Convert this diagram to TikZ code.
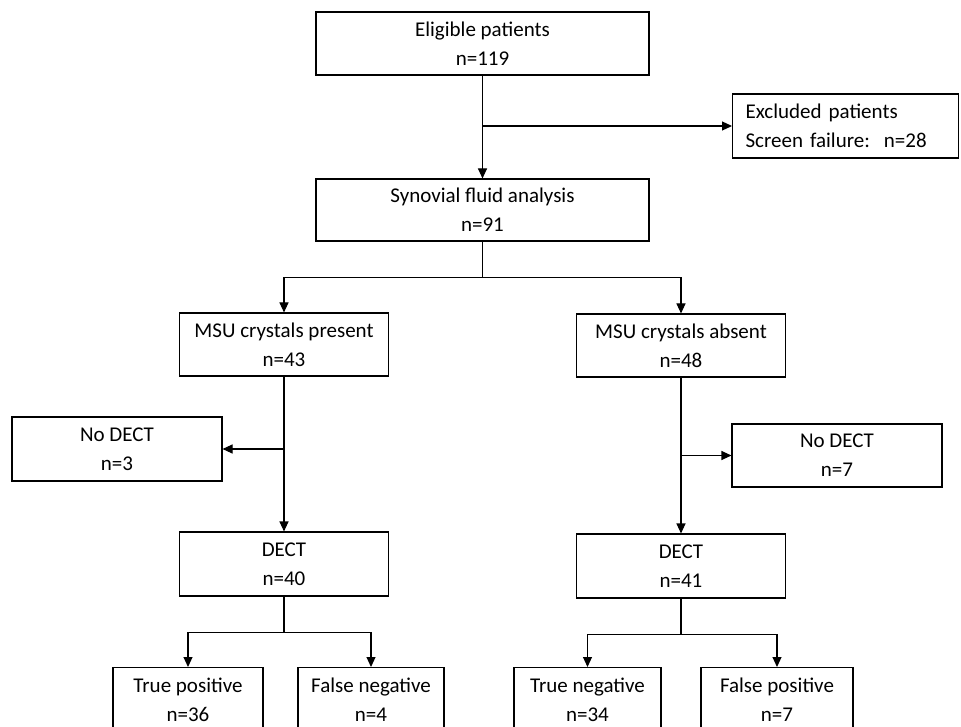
\documentclass[tikz,border=0pt]{standalone}
\usepackage{fontspec}
\setmainfont{Carlito}
\usepackage{tikz}
\usetikzlibrary{arrows.meta,calc,positioning}
\newcommand{\BranchGap}{36}
\tikzset{
  box/.style={draw, line width=1.1pt, align=center, inner sep=0pt,
    minimum height=63pt, font=\fontsize{21}{29}\selectfont},
  wideBox/.style={box, minimum width=333pt},
  midBox/.style={box, minimum width=209pt},
  leafBox/.style={box, minimum width=149pt, minimum height=64pt},
  flowArrow/.style={-{Triangle[length=10pt,width=9pt]}, line width=1.1pt},
  flowLine/.style={line width=1.1pt}
}

\begin{document}
\begin{tikzpicture}[x=1pt,y=-1pt]
  \useasboundingbox (0,0) rectangle (961,727);
  % top of the chart
  \node[wideBox] (elig) at (482.5,43.5) {Eligible patients\\n=119};
  \node[box, minimum width=226pt, minimum height=64pt, align=left, anchor=west,
    text width=200pt] (excl) at (732,126) {Excluded patients\\Screen failure:\ \ n=28};
  \node[wideBox, minimum height=62pt] (syn) at (482.5,210) {Synovial fluid analysis\\n=91};
  % crystals present / absent
  \node[midBox] (msup) at (284,344.5) {MSU crystals present\\n=43};
  \node[midBox] (msua) at (681,345.5) {MSU crystals absent\\n=48};
  \node[midBox, minimum width=210pt, minimum height=64pt] (nodA) at (117,449) {No DECT\\n=3};
  \node[midBox, minimum width=210pt] (nodB) at (837,455.5) {No DECT\\n=7};
  \node[midBox, minimum height=64pt] (dectA) at (284,564) {DECT\\n=40};
  \node[midBox, minimum height=64pt] (dectB) at (681,566) {DECT\\n=41};
  % outcome boxes (cut by the lower edge)
  \node[leafBox, minimum width=150pt, anchor=north] (tp) at (188,667) {True positive\\n=36};
  \node[leafBox, minimum width=146pt, anchor=north] (fn) at (371,667) {False negative\\n=4};
  \node[leafBox, minimum width=147pt, anchor=north] (tn) at (587.5,667) {True negative\\n=34};
  \node[leafBox, minimum width=152pt, anchor=north] (fp) at (777,667) {False positive\\n=7};

  % connectors
  \draw[flowArrow] (elig) -- (syn);
  \coordinate (exclTap) at (elig.south |- excl.west);
  \draw[flowArrow] (exclTap) -- (excl.west);
  \coordinate (synFork) at ($(syn.south)+(0,\BranchGap)$);
  \draw[flowLine] (syn.south) -- (synFork);
  \draw[flowArrow] (synFork) -| (msup.north);
  \draw[flowArrow] (synFork) -| (msua.north);
  \draw[flowArrow] (msup) -- (dectA);
  \draw[flowArrow] (msua) -- (dectB);
  \coordinate (nodTapA) at (msup.south |- nodA.east);
  \coordinate (nodTapB) at (msua.south |- nodB.west);
  \draw[flowArrow] (nodTapA) -- (nodA.east);
  \draw[flowArrow] (nodTapB) -- (nodB.west);
  \coordinate (dectForkA) at ($(dectA.south)+(0,\BranchGap)$);
  \coordinate (dectForkB) at ($(dectB.south)+(0,\BranchGap)$);
  \draw[flowLine] (dectA.south) -- (dectForkA);
  \draw[flowLine] (dectB.south) -- (dectForkB);
  \draw[flowArrow] (dectForkA) -| (tp.north);
  \draw[flowArrow] (dectForkA) -| (fn.north);
  \draw[flowArrow] (dectForkB) -| (tn.north);
  \draw[flowArrow] (dectForkB) -| (fp.north);
\end{tikzpicture}
\end{document}
